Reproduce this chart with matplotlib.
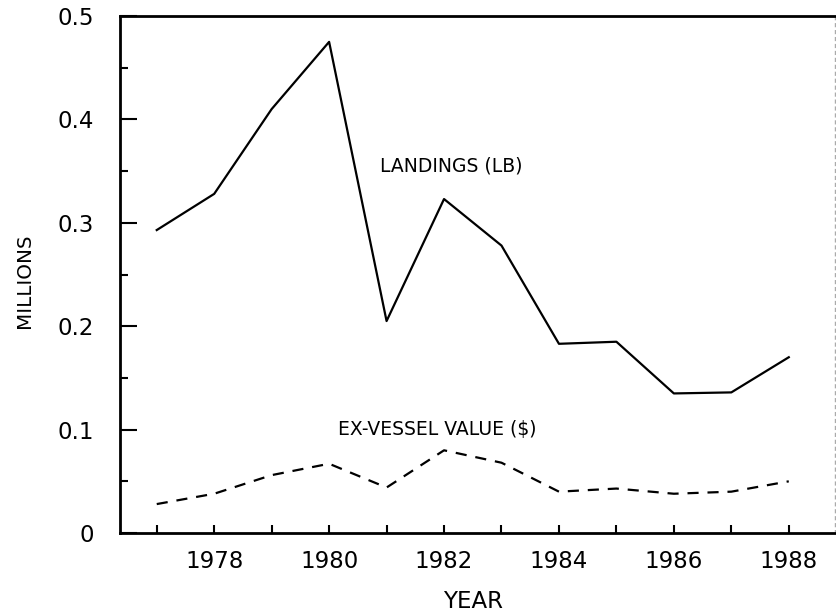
import matplotlib
matplotlib.use("Agg")
import matplotlib.pyplot as plt
from matplotlib.ticker import MultipleLocator

years = [1977, 1978, 1979, 1980, 1981, 1982, 1983, 1984, 1985, 1986, 1987, 1988]
landings = [0.293, 0.328, 0.410, 0.475, 0.205, 0.323, 0.278, 0.183, 0.185, 0.135, 0.136, 0.170]
ex_vessel = [0.028, 0.038, 0.056, 0.067, 0.044, 0.080, 0.068, 0.040, 0.043, 0.038, 0.040, 0.050]
xtick_labels = [1978, 1980, 1982, 1984, 1986, 1988]
ytick_values = [0, 0.1, 0.2, 0.3, 0.4, 0.5]
ytick_labels = ["0", "0.1", "0.2", "0.3", "0.4", "0.5"]

fig = plt.figure(figsize=(8.36, 6.16), dpi=100)
ax = fig.add_axes([0.1435, 0.1347, 0.855, 0.8393])

ax.plot(years, landings, color="black", lw=1.6)
ax.plot(years, ex_vessel, color="black", lw=1.6, ls=(0, (5, 4)))

ax.set_xlim(1976.36, 1988.8)
ax.set_ylim(0, 0.5)

ax.set_xticks(xtick_labels)
ax.set_xticklabels([str(v) for v in xtick_labels], fontsize=16.5)
ax.xaxis.set_minor_locator(MultipleLocator(1))
ax.set_yticks(ytick_values)
ax.set_yticklabels(ytick_labels, fontsize=16.5)
ax.yaxis.set_minor_locator(MultipleLocator(0.05))

ax.tick_params(axis="both", which="both", direction="in", width=1.5, colors="black")
ax.tick_params(axis="x", which="major", length=6, pad=12)
ax.tick_params(axis="x", which="minor", length=6)
ax.tick_params(axis="y", which="major", length=12, pad=19)
ax.tick_params(axis="y", which="minor", length=6)

for s in ["left", "bottom", "top"]:
    ax.spines[s].set_linewidth(2)
    ax.spines[s].set_color("black")
ax.spines["right"].set_color("#aaaaaa")
ax.spines["right"].set_linestyle((0, (2, 3)))
ax.spines["right"].set_linewidth(1)

ax.text(1980.88, 0.355, "LANDINGS (LB)", fontsize=13.5, ha="left", va="center")
ax.text(1980.15, 0.1006, "EX-VESSEL VALUE ($)", fontsize=13.5, ha="left", va="center")

fig.text(0.029, 0.544, "MILLIONS", rotation=90, fontsize=14.3, ha="center", va="center")
fig.text(0.566, 0.024, "YEAR", fontsize=16.5, ha="center", va="center")

fig.savefig("out.png", dpi=100)
